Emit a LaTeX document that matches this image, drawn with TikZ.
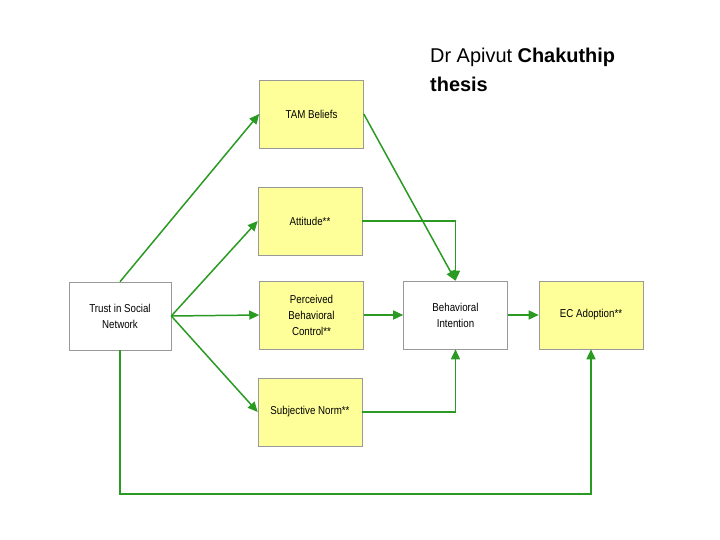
\documentclass[tikz,border=0pt]{standalone}
\usepackage{fontspec}
\setmainfont{Liberation Sans}
\usetikzlibrary{arrows.meta}
\definecolor{boxy}{HTML}{FFFF99}
\definecolor{arr}{HTML}{2A9A22}
\begin{document}
\begin{tikzpicture}[x=1bp,y=-1bp,
 box/.style={draw=gray!80,line width=0.6pt,minimum width=104bp,minimum height=68bp,align=center,font=\fontsize{11.5}{16}\selectfont,inner sep=1pt},
 yb/.style={box,fill=boxy},
 wb/.style={box,fill=white},
 ar/.style={draw=arr,line width=1.5pt,-{Triangle[length=10pt,width=9pt]}}]
\useasboundingbox (0,0) rectangle (720,540);
\node[yb] (tam) at (311.5,114) {\scalebox{0.85}[1]{TAM Beliefs}};
\node[yb] (att) at (310,221) {\scalebox{0.85}[1]{Attitude**}};
\node[yb] (pbc) at (311.5,315) {\scalebox{0.85}[1]{Perceived}\\\scalebox{0.85}[1]{Behavioral}\\\scalebox{0.85}[1]{Control**}};
\node[yb] (sn) at (310,412) {\scalebox{0.85}[1]{Subjective Norm**}};
\node[wb,minimum width=102bp] (tr) at (120,316) {\scalebox{0.85}[1]{Trust in Social}\\\scalebox{0.85}[1]{Network}};
\node[wb] (bi) at (455.5,315) {\scalebox{0.85}[1]{Behavioral}\\\scalebox{0.85}[1]{Intention}};
\node[yb] (ec) at (591,315) {\scalebox{0.85}[1]{EC Adoption**}};
\node[anchor=north west,align=left,font=\fontsize{20}{29}\selectfont,inner sep=0pt] (ttl) at (430,48) {Dr Apivut \textbf{Chakuthip}\\\textbf{thesis}};
\coordinate (c1) at (120,494);
\coordinate (c2) at (591,494);
\draw[ar] (tr.north) -- (tam.west);
\draw[ar] (tr.east) -- (att.west);
\draw[ar] (tr.east) -- (pbc.west);
\draw[ar] (tr.east) -- (sn.west);
\draw[ar] (tr.south) -- (c1) -- (c2) -- (ec.south);
\draw[ar] (tam.east) -- (bi.north);
\draw[ar] (att.east) -| (bi.north);
\draw[ar] (pbc.east) -- (bi.west);
\draw[ar] (sn.east) -| (bi.south);
\draw[ar] (bi.east) -- (ec.west);
\end{tikzpicture}
\end{document}
